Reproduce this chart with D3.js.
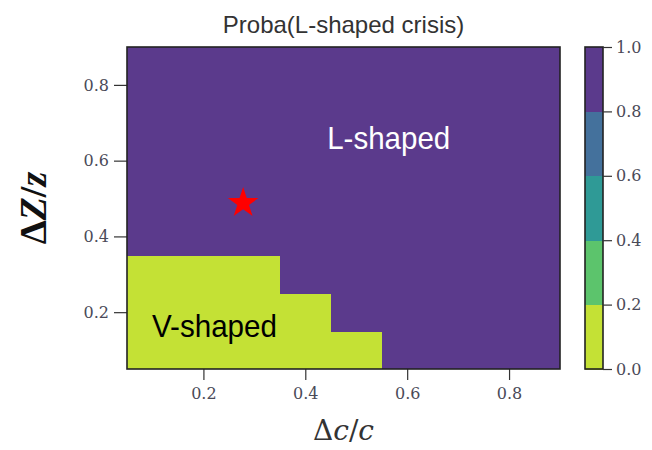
<!DOCTYPE html>
<html>
<head>
<meta charset="utf-8">
<script src="https://cdn.jsdelivr.net/npm/d3@7"></script>
<style>
  body { margin: 0; background: #fff; }
  .tick text { font-family: "DejaVu Serif", serif; font-size: 16px; fill: #4a4a58; }
  .tick line { stroke: #333; stroke-width: 1.2; }
</style>
</head>
<body>
<div id="chart"></div>
<script>
// grid of simulated outcomes: columns = Δc/c, rows = ΔZ/z (bottom to top)
const xCenters = [0.1, 0.2, 0.3, 0.4, 0.5, 0.6, 0.7, 0.8, 0.9];
const yCenters = [0.1, 0.2, 0.3, 0.4, 0.5, 0.6, 0.7, 0.8, 0.9];
const proba = [
    [0, 0, 0, 0, 0, 1, 1, 1, 1],  // ΔZ/z = 0.1
    [0, 0, 0, 0, 1, 1, 1, 1, 1],  // 0.2
    [0, 0, 0, 1, 1, 1, 1, 1, 1],  // 0.3
    [1, 1, 1, 1, 1, 1, 1, 1, 1],  // 0.4
    [1, 1, 1, 1, 1, 1, 1, 1, 1],  // 0.5
    [1, 1, 1, 1, 1, 1, 1, 1, 1],  // 0.6
    [1, 1, 1, 1, 1, 1, 1, 1, 1],  // 0.7
    [1, 1, 1, 1, 1, 1, 1, 1, 1],  // 0.8
    [1, 1, 1, 1, 1, 1, 1, 1, 1]   // 0.9
];
const levels = [0, 0.2, 0.4, 0.6, 0.8, 1.0];
const bandColors = ["#c4e135", "#5cc46c", "#2f9a96", "#44719c", "#5b3a8c"];
const xTicks = [0.2, 0.4, 0.6, 0.8];
const yTicks = [0.2, 0.4, 0.6, 0.8];
const cellSize = 0.1;
const star = {x: 0.278, y: 0.488};
const notes = [
    {text: "L-shaped", x: 0.443, y: 0.631, color: "#ffffff", len: 123},
    {text: "V-shaped", x: 0.099, y: 0.134, color: "#000000", len: 125}
];

const width = 652, height = 450;
const plot = {left: 127, right: 560, top: 47, bottom: 369};

const svg = d3.select("#chart")
    .append("svg")
    .attr("width", width)
    .attr("height", height);

const x = d3.scaleLinear().domain([0.05, 0.9]).range([plot.left, plot.right]);
const y = d3.scaleLinear().domain([0.05, 0.9]).range([plot.bottom, plot.top]);
const color = d3.scaleThreshold().domain(levels.slice(1, -1)).range(bandColors);

svg.append("clipPath")
    .attr("id", "plot-clip")
    .append("rect")
    .attr("x", plot.left)
    .attr("y", plot.top)
    .attr("width", plot.right - plot.left)
    .attr("height", plot.bottom - plot.top);

// Flatten the grid into cells
const cells = [];
yCenters.forEach((yc, i) => {
    xCenters.forEach((xc, j) => {
        cells.push({x: xc, y: yc, v: proba[i][j]});
    });
});

svg.append("g")
    .attr("clip-path", "url(#plot-clip)")
    .selectAll("rect")
    .data(cells)
    .enter().append("rect")
    .attr("x", d => x(d.x - cellSize / 2))
    .attr("y", d => y(d.y + cellSize / 2))
    .attr("width", d => x(d.x + cellSize / 2) - x(d.x - cellSize / 2) + 0.5)
    .attr("height", d => y(d.y - cellSize / 2) - y(d.y + cellSize / 2) + 0.5)
    .attr("fill", d => color(d.v))
    .attr("shape-rendering", "crispEdges");

// Annotations
svg.selectAll("text.note")
    .data(notes)
    .enter().append("text")
    .attr("class", "note")
    .attr("x", d => x(d.x))
    .attr("y", d => y(d.y))
    .attr("font-family", "Liberation Sans, Arial, sans-serif")
    .attr("font-size", 32)
    .attr("textLength", d => d.len)
    .attr("lengthAdjust", "spacingAndGlyphs")
    .attr("fill", d => d.color)
    .text(d => d.text);

svg.append("path")
    .attr("d", d3.symbol().type(d3.symbolStar).size(290)())
    .attr("transform", `translate(${x(star.x)},${y(star.y)})`)
    .attr("fill", "#ff0000");

// Axes
const xAxis = svg.append("g")
    .attr("transform", `translate(0,${plot.bottom})`)
    .call(d3.axisBottom(x).tickValues(xTicks).tickSize(11).tickPadding(8).tickFormat(d3.format(".1f")));
xAxis.select(".domain").remove();

const yAxis = svg.append("g")
    .attr("transform", `translate(${plot.left},0)`)
    .call(d3.axisLeft(y).tickValues(yTicks).tickSize(13).tickPadding(5).tickFormat(d3.format(".1f")));
yAxis.select(".domain").remove();

svg.append("rect")
    .attr("x", plot.left)
    .attr("y", plot.top)
    .attr("width", plot.right - plot.left)
    .attr("height", plot.bottom - plot.top)
    .attr("fill", "none")
    .attr("stroke", "#222")
    .attr("stroke-width", 1.6);

// Colorbar
const cb = {left: 585, right: 603};
const cbScale = d3.scaleLinear().domain([0, 1]).range([plot.bottom, plot.top]);
const bands = d3.pairs(levels);

svg.append("g")
    .selectAll("rect")
    .data(bands)
    .enter().append("rect")
    .attr("x", cb.left)
    .attr("y", d => cbScale(d[1]))
    .attr("width", cb.right - cb.left)
    .attr("height", d => cbScale(d[0]) - cbScale(d[1]) + 0.5)
    .attr("fill", (d, i) => bandColors[i])
    .attr("shape-rendering", "crispEdges");

svg.append("rect")
    .attr("x", cb.left)
    .attr("y", plot.top)
    .attr("width", cb.right - cb.left)
    .attr("height", plot.bottom - plot.top)
    .attr("fill", "none")
    .attr("stroke", "#222")
    .attr("stroke-width", 1.6);

const cbAxis = svg.append("g")
    .attr("transform", `translate(${cb.right},0)`)
    .call(d3.axisRight(cbScale).tickValues(levels).tickSize(9).tickPadding(4).tickFormat(d3.format(".1f")));
cbAxis.select(".domain").remove();

// Title and axis labels
svg.append("text")
    .attr("x", (plot.left + plot.right) / 2)
    .attr("y", 33)
    .attr("text-anchor", "middle")
    .attr("font-family", "Liberation Sans, Arial, sans-serif")
    .attr("font-size", 24)
    .attr("fill", "#333")
    .text("Proba(L-shaped crisis)");

const xLabel = svg.append("text")
    .attr("x", (plot.left + plot.right) / 2)
    .attr("y", 440)
    .attr("text-anchor", "middle")
    .attr("font-family", "DejaVu Serif, serif")
    .attr("font-size", 28)
    .attr("fill", "#333");
xLabel.append("tspan").text("Δ");
xLabel.append("tspan").attr("font-style", "italic").text("c");
xLabel.append("tspan").text("/");
xLabel.append("tspan").attr("font-style", "italic").text("c");

const yLabel = svg.append("text")
    .attr("transform", `translate(46,${(plot.top + plot.bottom) / 2}) rotate(-90)`)
    .attr("text-anchor", "middle")
    .attr("font-family", "Liberation Serif, serif")
    .attr("font-size", 38)
    .attr("font-weight", "bold")
    .attr("fill", "#111");
yLabel.append("tspan").text("Δ");
yLabel.append("tspan").attr("font-style", "italic").text("Z");
yLabel.append("tspan").text("/");
yLabel.append("tspan").attr("font-style", "italic").text("z");
</script>
</body>
</html>
